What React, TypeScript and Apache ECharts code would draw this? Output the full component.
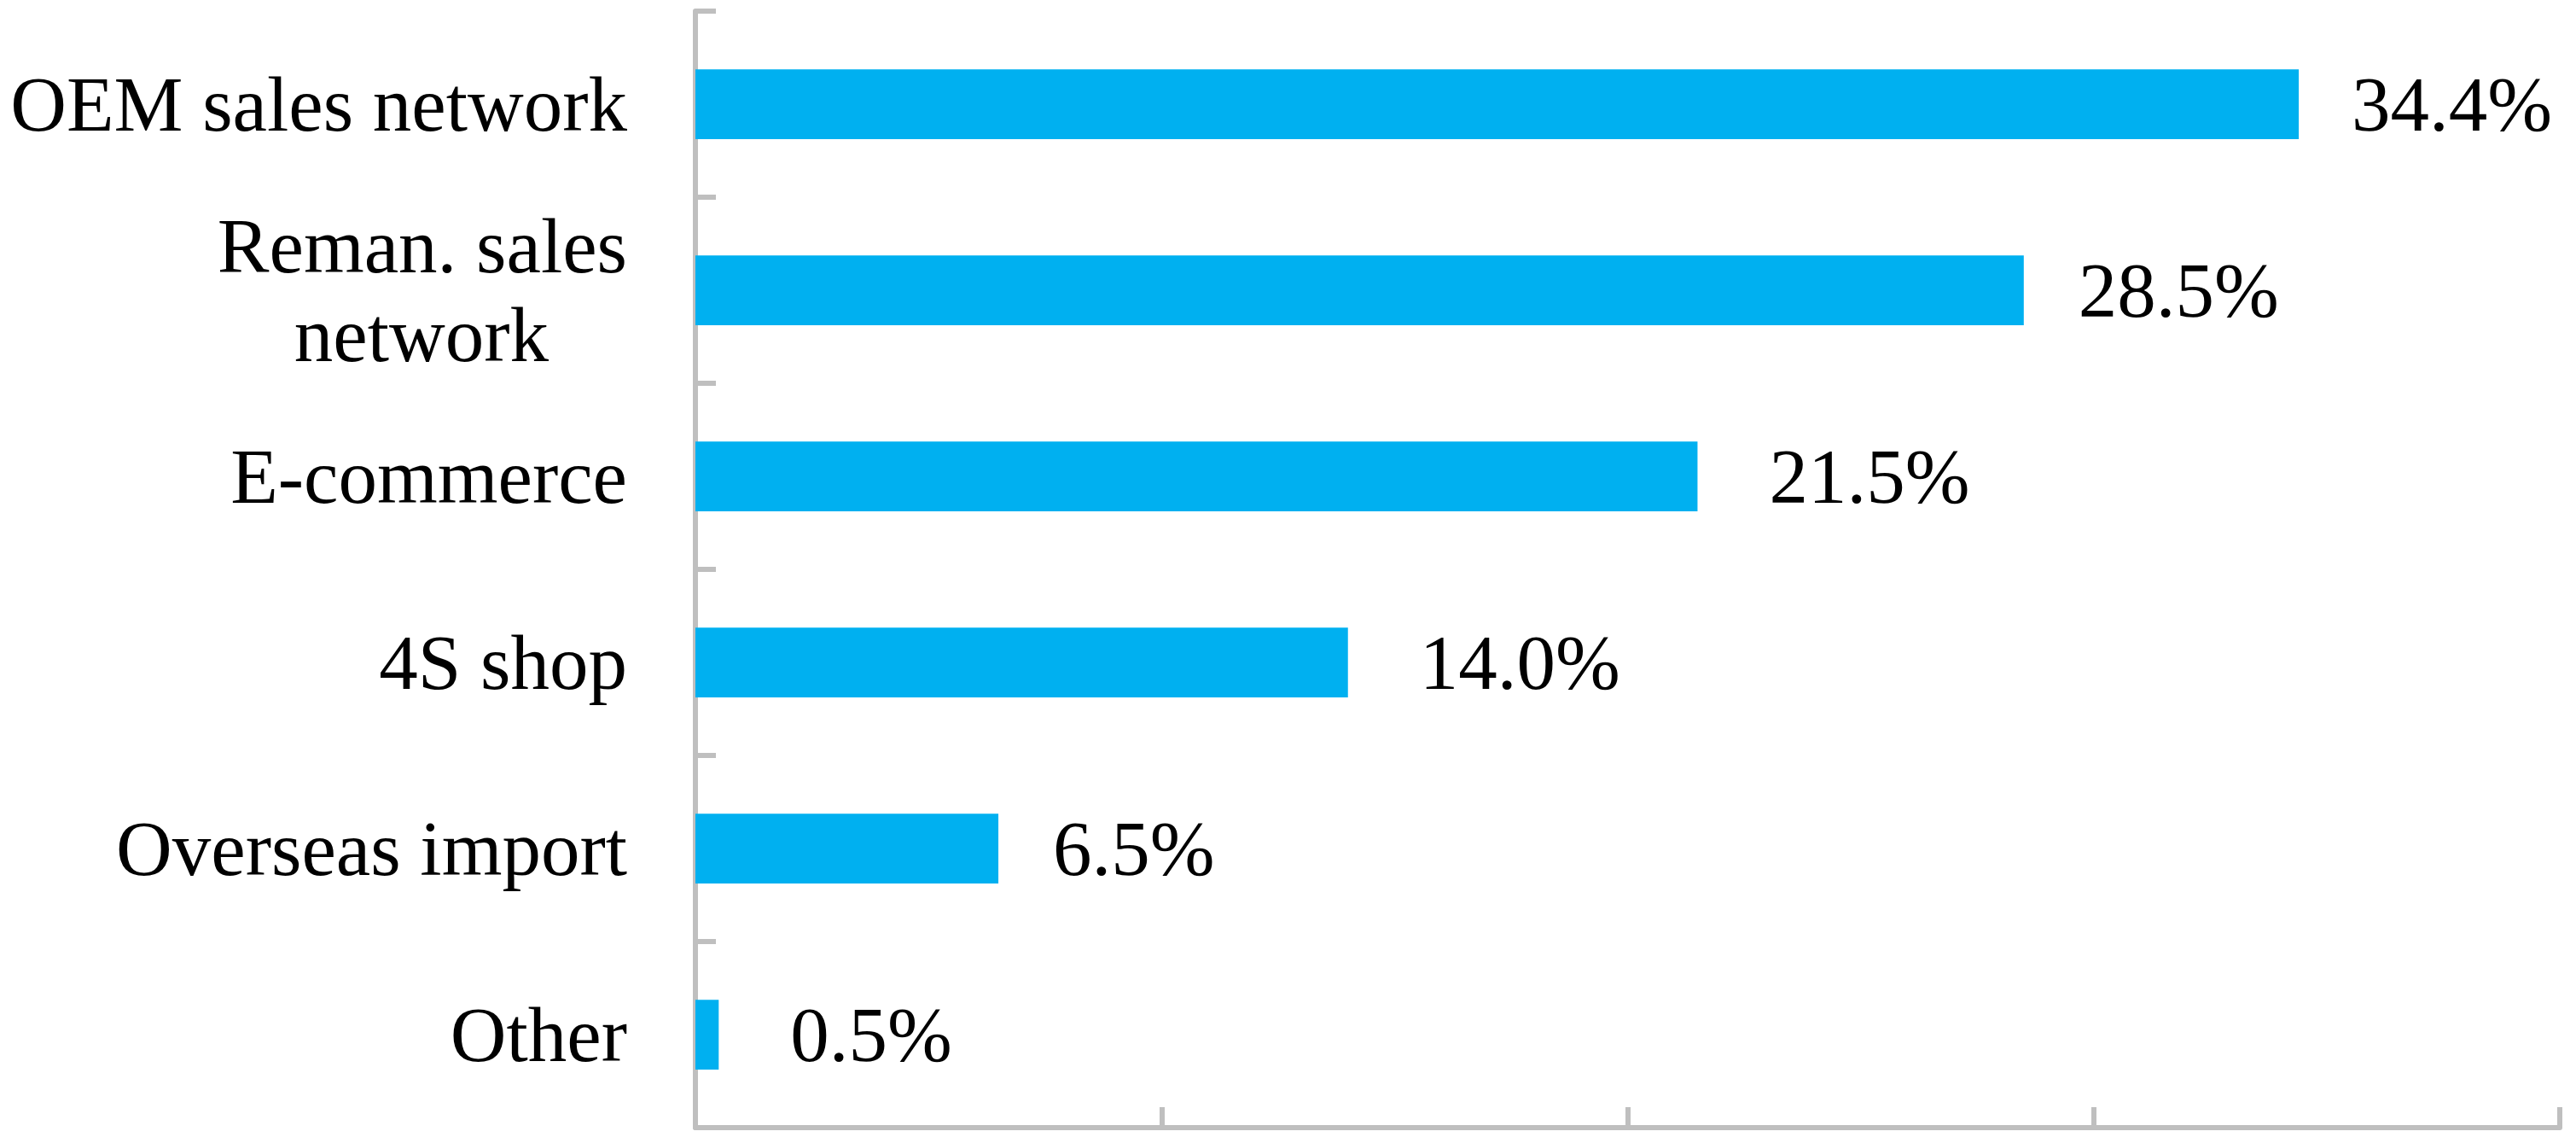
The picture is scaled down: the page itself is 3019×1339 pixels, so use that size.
import React, { useEffect, useRef } from "react";
import * as echarts from "echarts";

const categories: string[] = [
  "OEM sales network",
  "Reman. sales network",
  "E-commerce",
  "4S shop",
  "Overseas import",
  "Other",
];
const shares: number[] = [34.4, 28.5, 21.5, 14.0, 6.5, 0.5];
const axisMax = 40;
const axisInterval = 10;

// label gap (px) between bar end and its value label, as placed in the original
const labelGaps: number[] = [62, 64, 84, 84, 64, 84];

const FONT = '"Liberation Serif", "Times New Roman", serif';
const GREY = "#BFBFBF";
const FS = 91;

export default function App() {
  const ref = useRef<HTMLDivElement>(null);
  useEffect(() => {
    if (!ref.current) return;
    const chart = echarts.init(ref.current, undefined, { renderer: "svg" });
    chart.setOption({
      animation: false,
      backgroundColor: "#FFFFFF",
      grid: { left: 815, right: 19, top: 13, bottom: 18, containLabel: false },
      xAxis: {
        type: "value",
        min: 0,
        max: axisMax,
        interval: axisInterval,
        axisLine: { show: true, lineStyle: { color: GREY, width: 6 } },
        axisTick: { show: true, inside: true, length: 24, lineStyle: { color: GREY, width: 6 } },
        axisLabel: { show: false },
        splitLine: { show: false },
      },
      yAxis: {
        type: "category",
        inverse: true,
        data: categories,
        axisLine: { show: true, lineStyle: { color: GREY, width: 6 } },
        axisTick: { show: true, inside: true, length: 24, lineStyle: { color: GREY, width: 6 } },
        axisLabel: {
          margin: 80,
          color: "#000000",
          fontFamily: FONT,
          fontSize: FS,
          lineHeight: 104,
          align: "right",
          formatter: (v: string) =>
            v === "Reman. sales network" ? "{a|Reman. sales}\n{b|network}" : v,
          rich: {
            a: { fontFamily: FONT, fontSize: FS, lineHeight: 104, color: "#000000" },
            b: {
              fontFamily: FONT,
              fontSize: FS,
              lineHeight: 104,
              color: "#000000",
              padding: [0, 92, 0, 0],
            },
          },
        },
      },
      series: [
        {
          type: "bar",
          data: shares.map((v, i) => ({ value: v, label: { distance: labelGaps[i] } })),
          barWidth: "37.5%",
          itemStyle: { color: "#00B0F0" },
          label: {
            show: true,
            position: "right",
            distance: 60,
            color: "#000000",
            fontFamily: FONT,
            fontSize: FS,
            formatter: (p: any) => Number(p.value).toFixed(1) + "%",
          },
        },
      ],
    });
    return () => chart.dispose();
  }, []);
  return (
    <div
      ref={ref}
      style={{ position: "fixed", left: 0, top: 0, width: 3019, height: 1339, background: "#fff" }}
    />
  );
}
